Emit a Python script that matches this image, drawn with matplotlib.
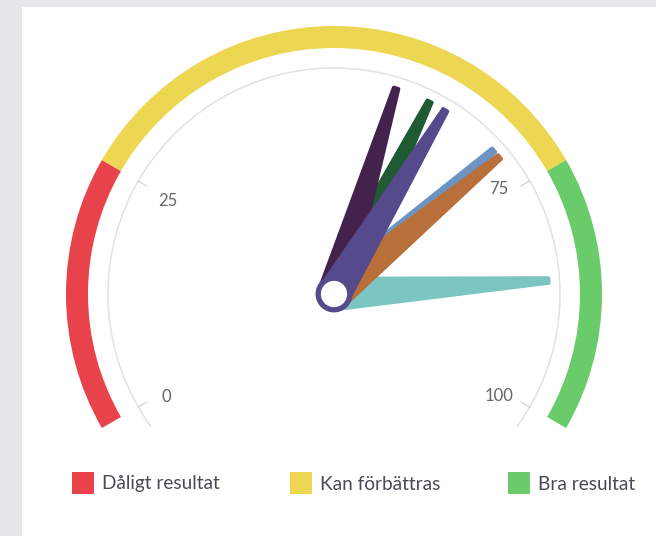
import numpy as np
import matplotlib
matplotlib.use("Agg")
import matplotlib.pyplot as plt
from matplotlib.patches import Wedge, Arc, Circle, Polygon, Rectangle

# ---- data ----
band_labels = ["Dåligt resultat", "Kan förbättras", "Bra resultat"]
band_from = [0, 25, 75]
band_to = [25, 75, 100]
band_colors = ["#e8434b", "#edd652", "#6acb6a"]

tick_values = [0, 25, 75, 100]
tick_labels = ["0", "25", "75", "100"]

needle_values = [86, 70, 71, 61, 57, 63]
needle_colors = ["#7cc5c2", "#6d93c1", "#b96f3a", "#1f5a33", "#43224b", "#554a8b"]

# ---- layout (pixels) ----
W, H = 656, 536
CX, CY = 334, H - 294
R_AXIS = 226
R_BAND_OUT, BAND_W = 268, 22
START, SPAN = -120.0, 240.0

def ang(v):
    """clockwise-from-up angle (deg) for a value"""
    return START + SPAN * v / 100.0

def mpl_deg(v):
    return 90.0 - ang(v)

fig = plt.figure(figsize=(W / 100, H / 100), dpi=100)
fig.patch.set_facecolor("#e6e7e9")
ax = fig.add_axes([0, 0, 1, 1])
ax.set_xlim(0, W)
ax.set_ylim(0, H)
ax.set_aspect("equal")
ax.axis("off")

# white card
ax.add_patch(Rectangle((22, 0), W - 22, H - 7, facecolor="white", edgecolor="none", zorder=0))

# bands
for f, t, c in zip(band_from, band_to, band_colors):
    ax.add_patch(Wedge((CX, CY), R_BAND_OUT, mpl_deg(t), mpl_deg(f), width=BAND_W,
                       facecolor=c, edgecolor="none", zorder=1))

# axis arc
ax.add_patch(Arc((CX, CY), 2 * R_AXIS, 2 * R_AXIS, theta1=90 - 126, theta2=90 + 126,
                 color="#e2e2e2", lw=1.1, zorder=1))

# ticks (label nudges mimic the reference's label placement)
label_dx = {0: -3, 25: -2, 75: 0, 100: 0}
label_dy = {0: -8, 25: -2, 75: 10, 100: -7}
for v, lab in zip(tick_values, tick_labels):
    a = np.radians(ang(v))
    ux, uy = np.sin(a), np.cos(a)
    ax.plot([CX + R_AXIS * ux, CX + (R_AXIS - 10) * ux],
            [CY + R_AXIS * uy, CY + (R_AXIS - 10) * uy], color="#d6d6d6", lw=1.0, zorder=1)
    rl = 190
    ax.text(CX + rl * ux + label_dx.get(v, 0), CY + rl * uy + label_dy.get(v, 0), lab,
            ha="center", va="center",
            fontsize=12, color="#666666", family=["Lato", "DejaVu Sans"], zorder=2)

# needles
R_NEEDLE, BASE_W, TOP_W = 215, 31, 5
for v, c in zip(needle_values, needle_colors):
    a = np.radians(ang(v))
    u = np.array([np.sin(a), np.cos(a)])
    p = np.array([u[1], -u[0]])
    c0 = np.array([CX, CY])
    pts = [c0 + p * BASE_W / 2, c0 + u * R_NEEDLE + p * TOP_W / 2,
           c0 + u * R_NEEDLE - p * TOP_W / 2, c0 - p * BASE_W / 2]
    ax.add_patch(Polygon(pts, closed=True, facecolor=c, edgecolor=c, lw=2.6,
                         joinstyle="round", zorder=3))

# pivot
ax.add_patch(Circle((CX, CY), 15.8, facecolor="white", edgecolor="#554a8b", lw=3.8, zorder=4))

# legend
leg_x = [72, 290, 508]
for x, lab, c in zip(leg_x, band_labels, band_colors):
    ax.add_patch(Rectangle((x, H - 494), 22, 22, facecolor=c, edgecolor="none", zorder=2))
    ax.text(x + 30, H - 484, lab, ha="left", va="center", fontsize=13.7,
            color="#4a4a55", family=["Lato", "DejaVu Sans"], zorder=2)

fig.savefig("out.png", dpi=100, facecolor=fig.get_facecolor())
